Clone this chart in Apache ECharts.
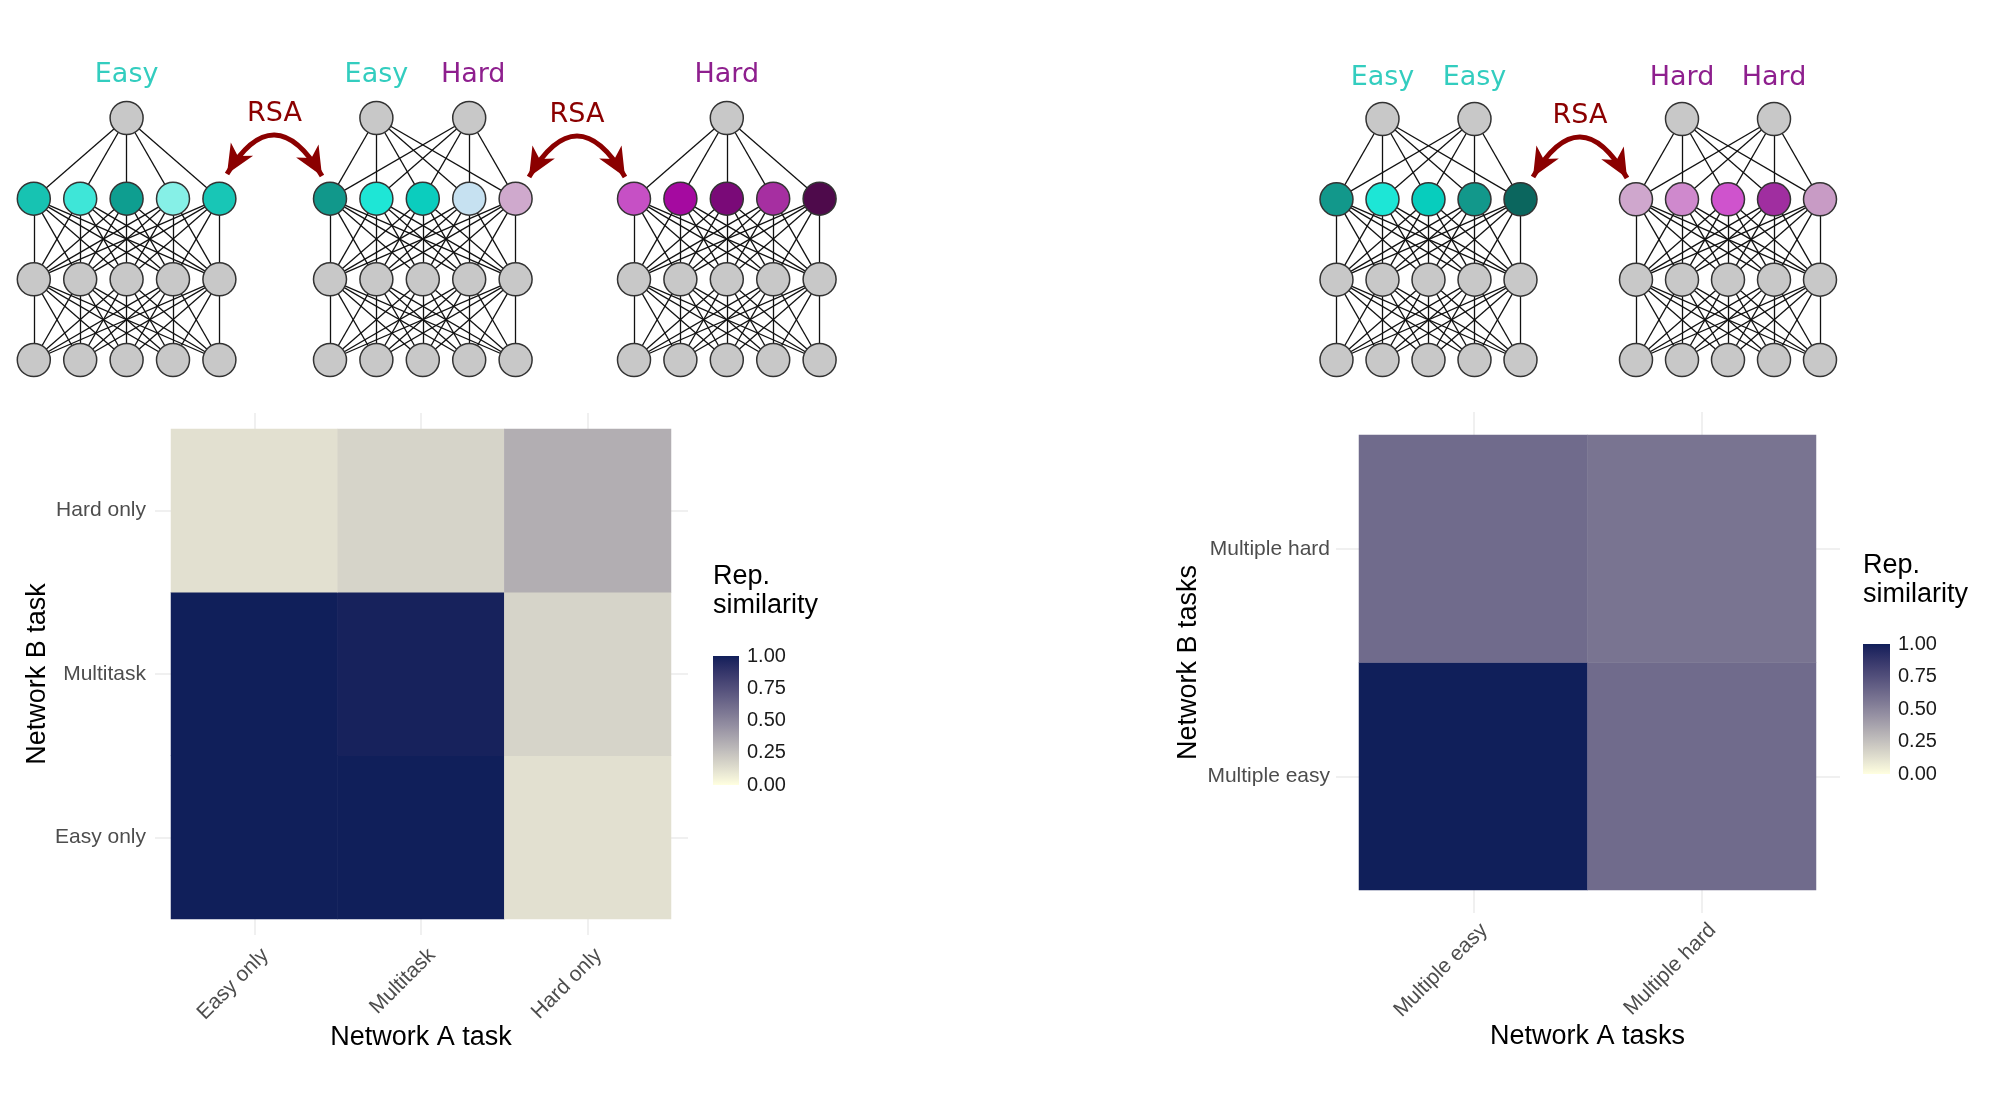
<!DOCTYPE html>
<html><head><meta charset="utf-8">
<script src="https://cdn.jsdelivr.net/npm/echarts@6/dist/echarts.min.js"></script>
<style>html,body{margin:0;padding:0;background:#fff}#c{width:2000px;height:1102px}</style>
</head><body><div id="c"></div>
<script>
// ---------------- DATA ----------------
const leftTasksA = ['Easy only', 'Multitask', 'Hard only'];
const leftTasksB = ['Easy only', 'Multitask', 'Hard only'];
// rows: Network B task (bottom->top), cols: Network A task
const leftSimilarity = [
  [1.00, 1.00, 0.12],
  [1.00, 0.98, 0.17],
  [0.12, 0.17, 0.33]
];
const rightTasksA = ['Multiple easy', 'Multiple hard'];
const rightTasksB = ['Multiple easy', 'Multiple hard'];
const rightSimilarity = [
  [1.00, 0.62],
  [0.62, 0.58]
];
const legendTicks = [0, 0.25, 0.5, 0.75, 1.0];
const legendTitle = 'Rep.\nsimilarity';
const layerSizes = [5, 5, 5];           // input, hidden, readout layer
const leftNetOutputs = [[2], [1, 3], [2]];   // output node positions per network
const rightNetOutputs = [[1, 3], [1, 3]];
const leftNetLabels = [['Easy'], ['Easy', 'Hard'], ['Hard']];
const rightNetLabels = [['Easy', 'Easy'], ['Hard', 'Hard']];

// ---------------- STYLES ----------------
const leftHiddenColors = [
  ['#17c3b2', '#3ee6d8', '#0e9e90', '#86f0e7', '#18c6b6'],
  ['#11988b', '#1ee6d6', '#0bcdbe', '#c6e1f1', '#cfa9cd'],
  ['#c650c5', '#a50aa0', '#7a0a78', '#a62fa1', '#4e0a4b']
];
const rightHiddenColors = [
  ['#12988b', '#1de6d6', '#07cdbd', '#12988b', '#0b665e'],
  ['#cfa7cd', '#cf89cd', '#cf53cd', '#a02ea0', '#c89bc5']
];
const TEAL = '#33cdbf', PURPLE = '#8e1f8e', DARKRED = '#8b0000';
const LOW = '#FFFFE0', HIGH = '#101F5A';

// Lab interpolation of the fill gradient
function hex2rgb(h){h=h.replace('#','');return [0,2,4].map(i=>parseInt(h.substr(i,2),16));}
function s2l(c){c/=255;return c<=0.04045?c/12.92:Math.pow((c+0.055)/1.055,2.4);}
function l2s(c){c=c<=0.0031308?12.92*c:1.055*Math.pow(c,1/2.4)-0.055;return Math.max(0,Math.min(255,Math.round(c*255)));}
function rgb2lab(rgb){const [r,g,b]=rgb.map(s2l);const X=(0.4124*r+0.3576*g+0.1805*b)/0.95047,Y=(0.2126*r+0.7152*g+0.0722*b),Z=(0.0193*r+0.1192*g+0.9505*b)/1.08883;const f=t=>t>0.008856?Math.cbrt(t):7.787*t+16/116;const fx=f(X),fy=f(Y),fz=f(Z);return [116*fy-16,500*(fx-fy),200*(fy-fz)];}
function lab2rgb(l){const fy=(l[0]+16)/116,fx=fy+l[1]/500,fz=fy-l[2]/200;const fi=t=>t*t*t>0.008856?t*t*t:(t-16/116)/7.787;const X=fi(fx)*0.95047,Y=fi(fy),Z=fi(fz)*1.08883;const r=3.2406*X-1.5372*Y-0.4986*Z,g=-0.9689*X+1.8758*Y+0.0415*Z,b=0.0557*X-0.2040*Y+1.0570*Z;return 'rgb('+[r,g,b].map(l2s).join(',')+')';}
const labLow = rgb2lab(hex2rgb(LOW)), labHigh = rgb2lab(hex2rgb(HIGH));
const NSTOP = 24;
const rampColors = [];
for (let k = 0; k <= NSTOP; k++) { const t = k / NSTOP; rampColors.push(lab2rgb(labLow.map((v, i) => v + (labHigh[i] - v) * t))); }

const FONT = 'Liberation Sans, Arial, Helvetica, sans-serif';
const DFONT = 'DejaVu Sans, Verdana, sans-serif';

const grids = [], xAxes = [], yAxes = [], series = [], graphics = [];
const stub = { show: true, alignWithLabel: true, lineStyle: { color: '#ebebeb', width: 1.5 } };

function heatmapPanel(box, tasksA, tasksB, sim, xName, yName, stubLen, labelDx, labelMargin, yLabelMargin, xNameGap, yNameGap) {
  const g = grids.length;
  grids.push({ left: box.left, top: box.top, width: box.width, height: box.height, containLabel: false });
  grids.push({ left: box.left + labelDx, top: box.top, width: box.width, height: box.height, containLabel: false });
  const xi = xAxes.length;
  xAxes.push({ type: 'category', gridIndex: g, data: tasksA, position: 'bottom',
    axisLine: { show: false }, axisTick: Object.assign({ length: stubLen }, stub), axisLabel: { show: false },
    splitLine: { show: false }, name: xName, nameLocation: 'middle', nameGap: xNameGap,
    nameTextStyle: { fontFamily: FONT, fontSize: 27, color: '#000' } });
  xAxes.push({ type: 'category', gridIndex: g, data: tasksA, position: 'top',
    axisLine: { show: false }, axisTick: Object.assign({ length: stubLen }, stub), axisLabel: { show: false }, splitLine: { show: false } });
  xAxes.push({ type: 'category', gridIndex: g + 1, data: tasksA, position: 'bottom',
    axisLine: { show: false }, axisTick: { show: false }, splitLine: { show: false },
    axisLabel: { rotate: 45, color: '#4d4d4d', fontFamily: FONT, fontSize: 21, margin: labelMargin, interval: 0 } });
  const yi = yAxes.length;
  yAxes.push({ type: 'category', gridIndex: g, data: tasksB, position: 'left',
    axisLine: { show: false }, axisTick: Object.assign({ length: stubLen }, stub), splitLine: { show: false },
    axisLabel: { color: '#4d4d4d', fontFamily: FONT, fontSize: 21, margin: yLabelMargin, interval: 0 },
    name: yName, nameLocation: 'middle', nameGap: yNameGap,
    nameTextStyle: { fontFamily: FONT, fontSize: 27, color: '#000' } });
  yAxes.push({ type: 'category', gridIndex: g, data: tasksB, position: 'right',
    axisLine: { show: false }, axisTick: Object.assign({ length: stubLen + 1 }, stub), axisLabel: { show: false }, splitLine: { show: false } });
  yAxes.push({ type: 'value', gridIndex: g + 1, show: false });
  const data = [];
  sim.forEach((row, r) => row.forEach((v, c) => data.push([c, r, v])));
  series.push({ type: 'heatmap', xAxisIndex: xi, yAxisIndex: yi, data: data,
    itemStyle: { borderWidth: 0 }, emphasis: { disabled: true }, silent: true, progressive: 0 });
}

function colorbar(box, title, titleTop) {
  const g = grids.length;
  grids.push({ left: box.left, top: box.top, width: box.width, height: box.height });
  const xi = xAxes.length;
  xAxes.push({ type: 'category', gridIndex: g, data: ['bar'], show: false });
  const yi = yAxes.length;
  const tickStyle = { show: true, inside: true, length: 5, lineStyle: { color: '#ffffff', width: 1.5 } };
  yAxes.push({ type: 'value', gridIndex: g, min: legendTicks[0], max: legendTicks[legendTicks.length - 1],
    interval: legendTicks[1] - legendTicks[0], position: 'right',
    axisLine: { show: false }, splitLine: { show: false }, axisTick: tickStyle,
    axisLabel: { color: '#1a1a1a', fontFamily: FONT, fontSize: 20, margin: 8, formatter: v => v.toFixed(2) } });
  yAxes.push({ type: 'value', gridIndex: g, min: legendTicks[0], max: legendTicks[legendTicks.length - 1],
    interval: legendTicks[1] - legendTicks[0], position: 'left',
    axisLine: { show: false }, splitLine: { show: false }, axisTick: tickStyle, axisLabel: { show: false } });
  const stops = rampColors.map((c, k) => ({ offset: 1 - k / NSTOP, color: c })).reverse();
  series.push({ type: 'bar', xAxisIndex: xi, yAxisIndex: yi, data: [legendTicks[legendTicks.length - 1]],
    barWidth: '100%', silent: true, z: 1,
    itemStyle: { color: { type: 'linear', x: 0, y: 0, x2: 0, y2: 1, colorStops: stops } } });
  graphics.push({ type: 'text', left: box.left, top: titleTop, z: 10,
    style: { text: title, fill: '#000', fontFamily: FONT, fontSize: 27, lineHeight: 29 } });
}

function network(box, outputs, hidden) {
  const g = grids.length;
  grids.push({ left: box.left, top: box.top, width: box.width, height: box.height });
  const xi = xAxes.length, yi = yAxes.length;
  xAxes.push({ type: 'value', gridIndex: g, min: 0, max: layerSizes[0] - 1, show: false });
  yAxes.push({ type: 'value', gridIndex: g, min: 0, max: layerSizes.length, show: false });
  const gray = { color: '#c8c8c8', borderColor: '#333333', borderWidth: 1.5 };
  const nodes = [], links = [];
  const offs = [];
  let n = 0;
  layerSizes.forEach((sz, l) => {
    offs.push(n);
    for (let i = 0; i < sz; i++) {
      nodes.push({ name: 'n' + l + '_' + i, value: [i, l],
        itemStyle: l === layerSizes.length - 1 ? { color: hidden[i], borderColor: '#333333', borderWidth: 1.5 } : gray });
      n++;
    }
  });
  const outOff = n;
  outputs.forEach((p, k) => nodes.push({ name: 'out' + k, value: [p, layerSizes.length], itemStyle: gray }));
  for (let l = 0; l < layerSizes.length - 1; l++)
    for (let i = 0; i < layerSizes[l]; i++)
      for (let j = 0; j < layerSizes[l + 1]; j++) links.push({ source: offs[l] + i, target: offs[l + 1] + j });
  const last = layerSizes.length - 1;
  outputs.forEach((p, k) => { for (let i = 0; i < layerSizes[last]; i++) links.push({ source: offs[last] + i, target: outOff + k }); });
  series.push({ type: 'graph', coordinateSystem: 'cartesian2d', xAxisIndex: xi, yAxisIndex: yi,
    data: nodes, links: links, symbol: 'circle', symbolSize: 33, silent: true,
    lineStyle: { color: '#111111', width: 1.3, opacity: 1, curveness: 0 },
    label: { show: false }, emphasis: { disabled: true } });
}

function label(text, x, y, color, size) {
  graphics.push({ type: 'text', x: x, y: y, z: 10,
    style: { text: text, fill: color, fontFamily: DFONT, fontSize: size || 27,
      align: 'center', verticalAlign: 'middle', textAlign: 'center', textVerticalAlign: 'middle' } });
}

function arrow(x1, y1, x2, y2, peakY) {
  const cx = (x1 + x2) / 2, cy = 2 * peakY - (y1 + y2) / 2;
  graphics.push({ type: 'bezierCurve', z: 10, shape: { x1: x1, y1: y1, x2: x2, y2: y2, cpx1: cx, cpy1: cy },
    style: { stroke: DARKRED, lineWidth: 5, fill: null } });
  [[x1, y1], [x2, y2]].forEach(tp => {
    let dx = tp[0] - cx, dy = tp[1] - cy; const L = Math.hypot(dx, dy); dx /= L; dy /= L;
    const len = 29, hw = 13, nx = -dy, ny = dx;
    const bx = tp[0] - dx * len, by = tp[1] - dy * len;
    const mx = tp[0] - dx * len * 0.72, my = tp[1] - dy * len * 0.72;
    graphics.push({ type: 'polygon', z: 11, shape: { points: [[tp[0], tp[1]], [bx + nx * hw, by + ny * hw], [mx, my], [bx - nx * hw, by - ny * hw]] },
      style: { fill: DARKRED } });
  });
  graphics.push({ type: 'text', x: cx, y: peakY - 21, z: 10,
    style: { text: 'RSA', fill: DARKRED, fontFamily: DFONT, fontSize: 27,
      align: 'center', verticalAlign: 'middle', textAlign: 'center', textVerticalAlign: 'middle' } });
}

// ---------------- BUILD ----------------
heatmapPanel({ left: 171, top: 429, width: 500, height: 490 }, leftTasksA, leftTasksB, leftSimilarity,
  'Network A task', 'Network B task', 16, 11, 33, 25, 105, 119);
heatmapPanel({ left: 1359, top: 435, width: 457, height: 455 }, rightTasksA, rightTasksB, rightSimilarity,
  'Network A tasks', 'Network B tasks', 23, 11, 37, 29, 133, 157);
colorbar({ left: 713, top: 656, width: 26, height: 129 }, legendTitle, 562);
colorbar({ left: 1863, top: 644, width: 27, height: 130 }, legendTitle, 551);

const leftNetLeft = [33.8, 330, 634];
const netW = 185.6;
leftNetOutputs.forEach((o, k) => network({ left: leftNetLeft[k], top: 118, width: netW, height: 242 }, o, leftHiddenColors[k]));
const rightNetLeft = [1336.5, 1636];
rightNetOutputs.forEach((o, k) => network({ left: rightNetLeft[k], top: 119, width: 184, height: 241 }, o, rightHiddenColors[k]));

// network titles above output nodes
const colorFor = t => t === 'Easy' ? TEAL : PURPLE;
leftNetOutputs.forEach((o, k) => o.forEach((p, j) => label(leftNetLabels[k][j], leftNetLeft[k] + p * netW / 4 + (j === 1 ? 4 : 0), 75, colorFor(leftNetLabels[k][j]))));
rightNetOutputs.forEach((o, k) => o.forEach((p, j) => label(rightNetLabels[k][j], rightNetLeft[k] + p * 184 / 4, 78, colorFor(rightNetLabels[k][j]))));

arrow(227, 174, 322, 176, 135);
arrow(529, 177, 625, 177, 136);
arrow(1533, 177, 1627, 178, 137);

const chart = echarts.init(document.getElementById('c'), null, { renderer: 'canvas' });
chart.setOption({
  backgroundColor: '#ffffff',
  animation: false,
  grid: grids,
  xAxis: xAxes,
  yAxis: yAxes,
  visualMap: [{ type: 'continuous', show: false, min: 0, max: 1, seriesIndex: [0, 1], inRange: { color: rampColors } }],
  series: series,
  graphic: graphics
});
</script></body></html>
